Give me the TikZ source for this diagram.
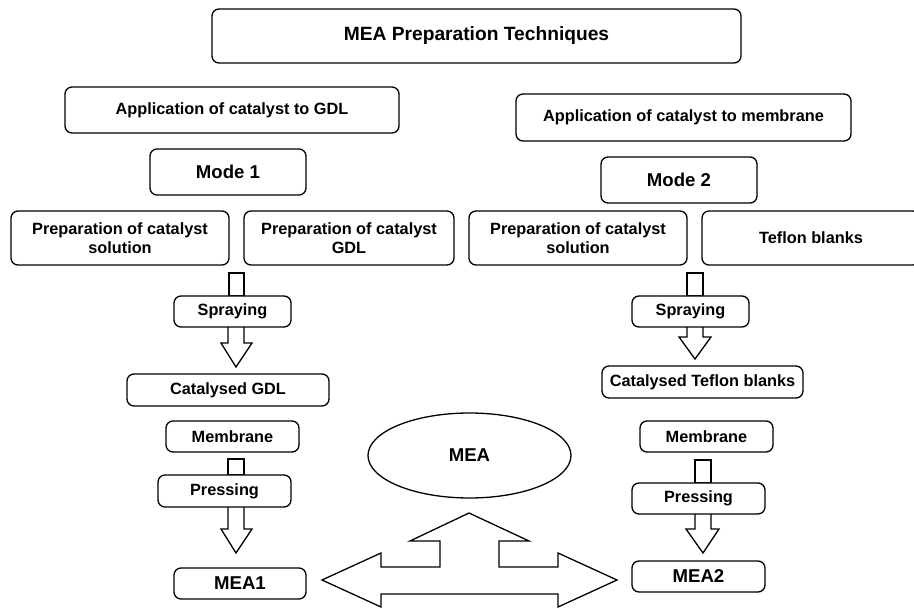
\documentclass[tikz,border=0pt]{standalone}
\usepackage{fontspec}
\setmainfont{Liberation Sans}
\usetikzlibrary{shapes.geometric}
\tikzset{
  box/.style={draw, line width=1.3pt, rounded corners=7pt, inner sep=0pt, align=center,
    font=\fontsize{16.3}{18.5}\selectfont\bfseries},
  bigbox/.style={box, font=\fontsize{18.6}{21}\selectfont\bfseries},
  titlebox/.style={box, font=\fontsize{19.2}{22}\selectfont\bfseries},
  blk/.style={draw, line width=1.3pt, fill=white, line join=miter},
}
\begin{document}
\begin{tikzpicture}[x=1pt,y=-1pt]
\useasboundingbox (0,0) rectangle (914,609);
% boxes
\node[titlebox, minimum width=529pt, minimum height=54pt] (title) at (476.5,36) {MEA Preparation Techniques};
\node[box, minimum width=334pt, minimum height=46pt] (appGDL) at (232,110) {Application of catalyst to GDL};
\node[box, minimum width=335pt, minimum height=47pt] (appMem) at (683.5,117.5) {Application of catalyst to membrane};
\node[bigbox, minimum width=156pt, minimum height=46pt] (mode1) at (228,172) {Mode 1};
\node[bigbox, minimum width=156pt, minimum height=46pt] (mode2) at (679,180) {Mode 2};
\node[box, minimum width=218pt, minimum height=54pt] (prepSolL) at (120,238) {Preparation of catalyst\\solution};
\node[box, minimum width=210pt, minimum height=54pt] (prepGDL) at (349,238) {Preparation of catalyst\\GDL};
\node[box, minimum width=218pt, minimum height=54pt] (prepSolR) at (578,238) {Preparation of catalyst\\solution};
\node[box, minimum width=218pt, minimum height=54pt] (teflon) at (811,238) {Teflon blanks};
% block arrow pieces (drawn before the boxes they touch)
\draw[blk] (229,273) rectangle (244,296);
\draw[blk] (687,273) rectangle (703,296);
\draw[blk] (228,327) -- (228,343) -- (221,343) -- (236,367) -- (252,343) -- (244,343) -- (244,327);
\draw[blk] (687,327) -- (687,337) -- (679,337) -- (695,359) -- (711,337) -- (703,337) -- (703,327);
\draw[blk] (228,459) rectangle (244,475);
\draw[blk] (695,460) rectangle (711,483);
\draw[blk] (228,507) -- (228,529) -- (221,529) -- (236,553) -- (252,529) -- (244,529) -- (244,507);
\draw[blk] (695,514) -- (695,529) -- (686,529) -- (703,553) -- (719,529) -- (711,529) -- (711,514);
\node[box, fill=white, minimum width=117pt, minimum height=31pt] (sprayL) at (232.5,311.5) {Spraying};
\node[box, fill=white, minimum width=117pt, minimum height=31pt] (sprayR) at (690.5,311.5) {Spraying};
\node[box, minimum width=202pt, minimum height=32pt] (catGDL) at (228,390) {Catalysed GDL};
\node[box, minimum width=201pt, minimum height=32pt] (catTef) at (702.5,382) {Catalysed Teflon blanks};
\node[box, minimum width=133pt, minimum height=31pt] (memL) at (232.5,436.5) {Membrane};
\node[box, minimum width=133pt, minimum height=31pt] (memR) at (706.5,436.5) {Membrane};
\node[box, fill=white, minimum width=133pt, minimum height=32pt] (pressL) at (224.5,491) {Pressing};
\node[box, fill=white, minimum width=133pt, minimum height=31pt] (pressR) at (698.5,498.5) {Pressing};
\node[bigbox, minimum width=132pt, minimum height=31pt] (mea1) at (240,583.5) {MEA1};
\node[bigbox, minimum width=133pt, minimum height=31pt] (mea2) at (698.5,576.5) {MEA2};
\node[draw, ellipse, line width=1.3pt, inner sep=0pt, minimum width=203pt, minimum height=85pt,
  font=\fontsize{18.6}{21}\selectfont\bfseries] (mea) at (469.5,455.5) {MEA};
% three-way block arrow
\draw[blk] (322,580) -- (381,553) -- (381,567) -- (440,567) -- (440,541) -- (410,541) -- (469,513)
  -- (529,541) -- (499,541) -- (499,567) -- (558,567) -- (558,553) -- (617,580) -- (558,607)
  -- (558,594) -- (381,594) -- (381,607) -- cycle;
\end{tikzpicture}
\end{document}
